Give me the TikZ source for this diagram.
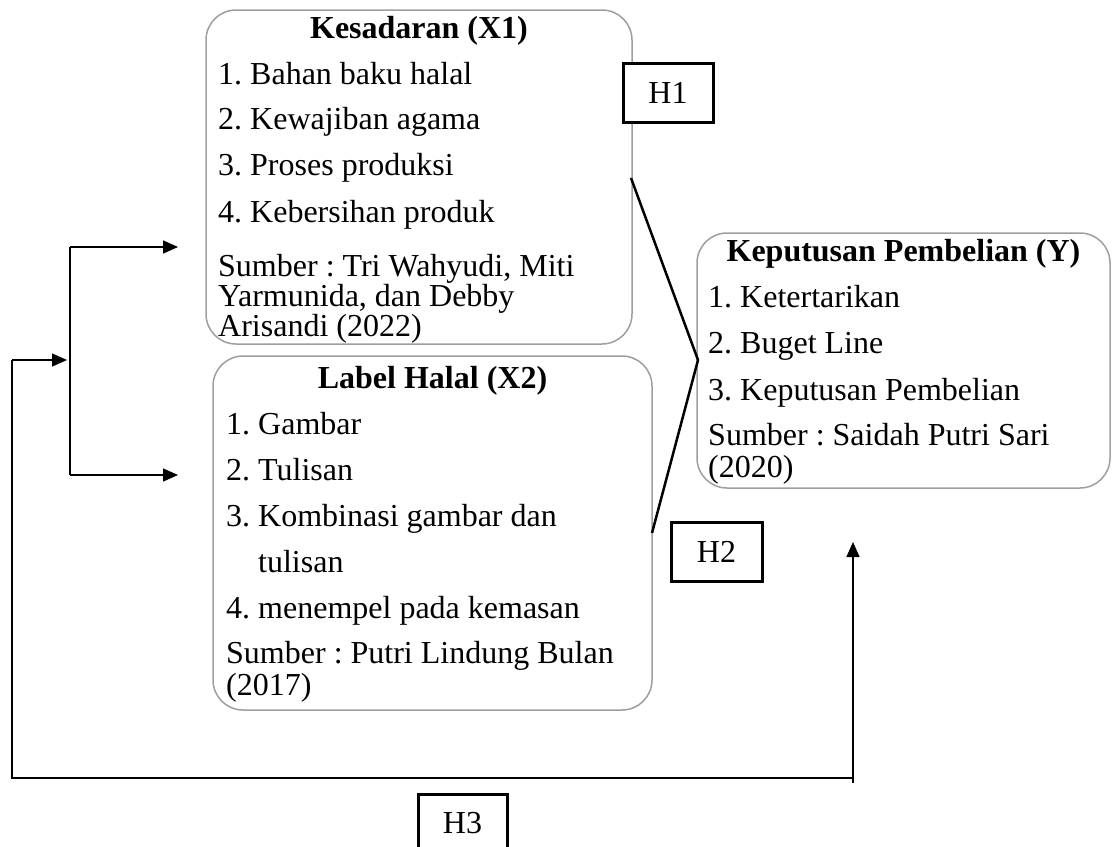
\documentclass[tikz,border=0pt]{standalone}
\usepackage{fontspec}
\setmainfont{Liberation Serif}
\usetikzlibrary{arrows.meta}
\newcommand\dgfs{\fontsize{32}{32}\selectfont\frenchspacing}
\begin{document}
\begin{tikzpicture}[x=1pt,y=-1pt,
  rbox/.style={draw=black!38, line width=1.5pt, rounded corners=30pt, inner sep=0pt},
  hbox/.style={draw=black, line width=3pt, fill=white, inner sep=0pt, font=\dgfs},
  txt/.style={anchor=base west, inner sep=0pt, font=\dgfs},
  ttl/.style={anchor=base, inner sep=0pt, font=\dgfs\bfseries},
  conn/.style={line width=1.5pt},
  arr/.style={line width=1.5pt, -{Triangle[length=15pt,width=13pt]}},
  link/.style={line width=2.5pt}]
\useasboundingbox (0,0) rectangle (1113,846);

% rounded boxes
\node[rbox, minimum width=426pt, minimum height=334pt] (x1) at (419,177) {};
\node[rbox, minimum width=439pt, minimum height=354pt] (x2) at (432.5,533) {};
\node[rbox, minimum width=413pt, minimum height=255pt] (y) at (903.5,360.5) {};

% texts of X1
\node[ttl] (x1t) at (419,38) {Kesadaran (X1)};
\node[txt] (x1a) at (218,84) {1. Bahan baku halal};
\node[txt] (x1b) at (218,129) {2. Kewajiban agama};
\node[txt] (x1c) at (218,175) {3. Proses produksi};
\node[txt] (x1d) at (218,222) {4. Kebersihan produk};
\node[txt] (x1e) at (218,276) {Sumber : Tri Wahyudi, Miti};
\node[txt] (x1f) at (218,306) {Yarmunida, dan Debby};
\node[txt] (x1g) at (218,336) {Arisandi (2022)};

% texts of X2
\node[ttl] (x2t) at (432.5,388) {Label Halal (X2)};
\node[txt] (x2a) at (226,434) {1. Gambar};
\node[txt] (x2b) at (226,480) {2. Tulisan};
\node[txt] (x2c) at (226,526) {3. Kombinasi gambar dan};
\node[txt] (x2d) at (258,572) {tulisan};
\node[txt] (x2e) at (226,618) {4. menempel pada kemasan};
\node[txt] (x2f) at (226,663) {Sumber : Putri Lindung Bulan};
\node[txt] (x2g) at (226,695) {(2017)};

% texts of Y
\node[ttl] (yt) at (903.5,261) {Keputusan Pembelian (Y)};
\node[txt] (ya) at (708,307) {1. Ketertarikan};
\node[txt] (yb) at (708,353) {2. Buget Line};
\node[txt] (yc) at (708,400) {3. Keputusan Pembelian};
\node[txt] (yd) at (708,445) {Sumber : Saidah Putri Sari};
\node[txt] (ye) at (708,477) {(2020)};

% hypothesis boxes
\node[hbox, minimum width=90pt, minimum height=59pt] (h1) at (668,92.5) {H1};
\node[hbox, minimum width=91pt, minimum height=59pt] (h2) at (716.5,551.5) {H2};
\node[hbox, minimum width=89pt, minimum height=59pt] (h3) at (462.5,823.5) {H3};

% connectors X1, X2 -> Y
\coordinate (d1) at (631,178);
\coordinate (d2) at (698,360);
\coordinate (d3) at (652,533);
\draw[link] (d1) -- (d2) -- (d3);

% left bracket arrows
\coordinate (sv1) at (70,247);
\coordinate (sv2) at (70,475);
\coordinate (t1) at (178,247);
\coordinate (t2) at (178,475);
\coordinate (m0) at (12,360);
\coordinate (m1) at (67,360);
\coordinate (bl) at (12,778);
\coordinate (br) at (853,778);
\coordinate (bre) at (853,783);
\coordinate (yt2) at (853,542);
\draw[conn] (sv1) -- (sv2);
\draw[arr] (sv1) -- (t1);
\draw[arr] (sv2) -- (t2);
\draw[arr] (m0) -- (m1);
\draw[conn] (m0) -- (bl) -- (br);
\draw[arr] (bre) -- (yt2);
\end{tikzpicture}
\end{document}
